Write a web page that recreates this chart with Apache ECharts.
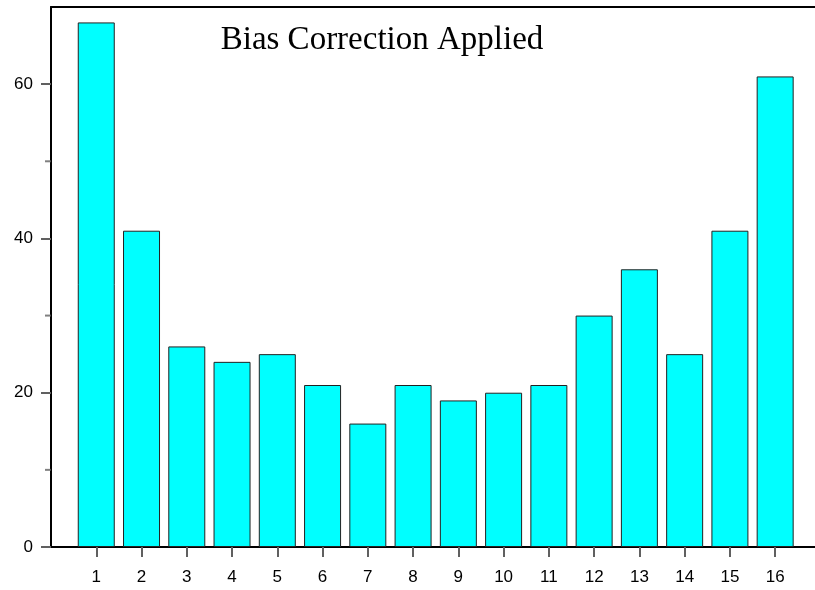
<!DOCTYPE html>
<html>
<head>
    <meta charset="utf-8">
    <title>Bias Correction Applied</title>
    <script type="text/javascript" src="https://cdn.jsdelivr.net/npm/echarts@6/dist/echarts.min.js"></script>
    <style>
        html, body { margin: 0; padding: 0; background: #fff; }
    </style>
</head>
<body>
<div id="main" style="width: 815px;height:590px;"></div>

<script type="text/javascript">
    // data
    var categories = [1, 2, 3, 4, 5, 6, 7, 8, 9, 10, 11, 12, 13, 14, 15, 16];
    var counts = [68, 41, 26, 24, 25, 21, 16, 21, 19, 20, 21, 30, 36, 25, 41, 61];
    var yTicks = [0, 20, 40, 60];
    var yMinorTicks = [10, 30, 50];

    var chart = echarts.init(document.getElementById('main'));

    var barData = categories.map(function (c, i) {
        return [c, counts[i]];
    });
    var minorData = yMinorTicks.map(function (v) {
        return [0, v];
    });

    var labelFont = '"Liberation Sans", Arial, sans-serif';

    var option = {
        animation: false,
        title: {
            text: 'Bias Correction Applied',
            left: 377,
            top: 19,
            textAlign: 'center',
            textStyle: {
                fontFamily: '"Liberation Serif", "Times New Roman", serif',
                fontWeight: 'normal',
                fontSize: 33,
                color: '#000'
            }
        },
        grid: {
            left: 51,
            top: 7,
            bottom: 43,
            right: 0
        },
        xAxis: [
            {
                type: 'value',
                min: 0,
                max: 16.88,
                interval: 1,
                splitLine: { show: false },
                axisLine: { onZero: false, lineStyle: { color: '#000', width: 2 } },
                axisTick: { length: 10, customValues: categories, lineStyle: { color: '#606060', width: 2 } },
                axisLabel: {
                    margin: 22,
                    color: '#000',
                    fontFamily: labelFont,
                    fontSize: 17,
                    customValues: categories
                }
            },
            {
                // top frame line
                type: 'value',
                position: 'top',
                min: 0,
                max: 16.88,
                splitLine: { show: false },
                axisLine: { onZero: false, lineStyle: { color: '#000', width: 2 } },
                axisTick: { show: false },
                axisLabel: { show: false }
            }
        ],
        yAxis: {
            type: 'value',
            min: 0,
            max: 70,
            interval: 10,
            splitLine: { show: false },
            axisLine: { show: true, onZero: false, lineStyle: { color: '#000', width: 2 } },
            axisTick: { show: true, length: 10, customValues: yTicks, lineStyle: { color: '#606060', width: 2 } },
            axisLabel: {
                margin: 18,
                color: '#000',
                fontFamily: labelFont,
                fontSize: 17,
                customValues: yTicks
            }
        },
        series: [
            {
                type: 'bar',
                barWidth: 37,
                data: barData,
                itemStyle: {
                    color: '#00ffff',
                    borderColor: '#222',
                    borderWidth: 1
                }
            },
            {
                // short minor ticks on the y axis
                type: 'scatter',
                symbol: 'rect',
                symbolSize: [6, 2],
                symbolOffset: [-3, 0],
                silent: true,
                itemStyle: { color: '#606060' },
                data: minorData,
                clip: false,
                z: 1
            }
        ]
    };

    chart.setOption(option);
</script>
</body>
</html>
